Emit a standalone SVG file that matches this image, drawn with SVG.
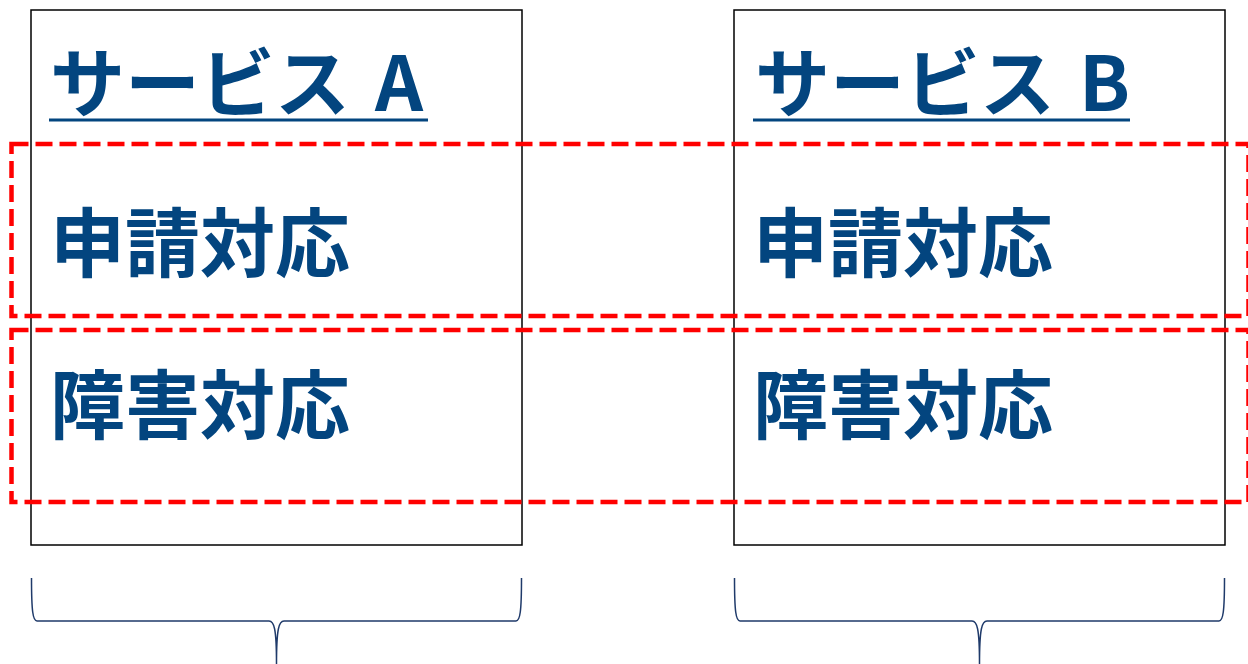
<svg xmlns="http://www.w3.org/2000/svg" width="1248" height="664" viewBox="0 0 1248 664">
<style>
.box{fill:#fff;stroke:#000;stroke-width:1.5}
.t{font-family:"Noto Sans CJK JP","Noto Sans",sans-serif;font-weight:bold;font-size:75px;fill:#03457F}
.ul{stroke:#03457F;stroke-width:3}
.dash{fill:none;stroke:#FF0000;stroke-width:4.5;stroke-dasharray:17 7}
.brace{fill:none;stroke:#1F3A6A;stroke-width:1.5}
</style>
<rect width="1248" height="664" fill="#fff"/>
<g id="serviceA">
<rect class="box" x="31" y="10" width="491" height="535"/>
<text class="t" x="50" y="111">サービス<tspan x="375">A</tspan></text>
<line class="ul" x1="49" y1="120" x2="428" y2="120"/>
<text class="t" x="50" y="271">申請対応</text>
<text class="t" x="50" y="433">障害対応</text>
</g>
<g id="serviceB">
<rect class="box" x="734" y="10" width="491" height="535"/>
<text class="t" x="755" y="111">サービス<tspan x="1079">B</tspan></text>
<line class="ul" x1="753" y1="120" x2="1130" y2="120"/>
<text class="t" x="753" y="271">申請対応</text>
<text class="t" x="753" y="433">障害対応</text>
</g>
<g id="groups">
<rect class="dash" x="11.5" y="144" width="1237" height="172"/>
<rect class="dash" x="11.5" y="330" width="1237" height="172"/>
</g>
<g id="connectors">
<path class="brace" d="M31.5,578 C31.5,612 33,621 37,621 L269,621 C274,621 276.5,628 276.5,664 M521.5,578 C521.5,612 520,621 516,621 L284,621 C279,621 276.5,628 276.5,664"/>
<path class="brace" d="M734.5,578 C734.5,612 736,621 740,621 L972,621 C977,621 979.5,628 979.5,664 M1224.5,578 C1224.5,612 1223,621 1219,621 L987,621 C982,621 979.5,628 979.5,664"/>
</g>
</svg>
